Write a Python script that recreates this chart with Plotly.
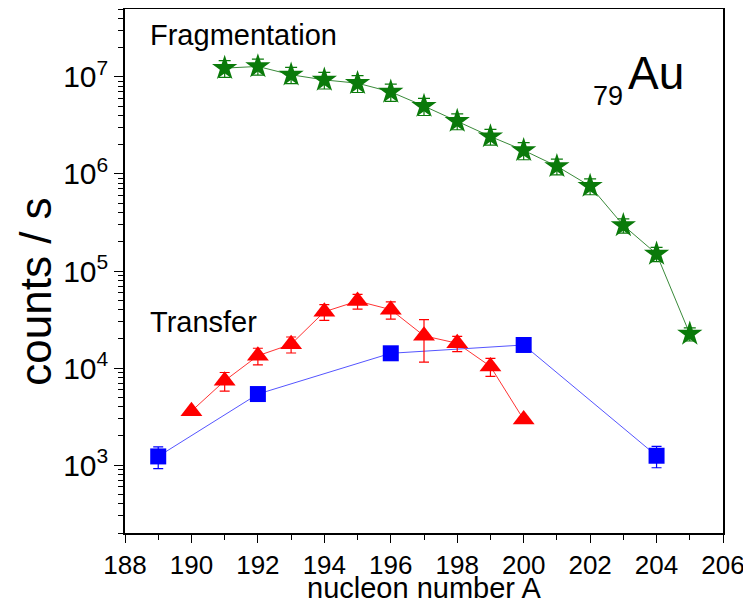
import plotly.graph_objects as go

# Fragmentation (green stars)
frag_A = [191, 192, 193, 194, 195, 196, 197, 198, 199, 200, 201, 202, 203, 204, 205]
frag_counts = [1.23e7, 1.28e7, 1.05e7, 9.3e6, 8.6e6, 7.0e6, 5.0e6, 3.5e6, 2.43e6, 1.75e6, 1.2e6, 7.5e5, 2.95e5, 1.5e5, 2.25e4]
frag_err = [2.4e6, 2.4e6, 2.0e6, 1.8e6, 1.7e6, 1.4e6, 1.0e6, 0.65e6, 0.45e6, 0.35e6, 0.22e6, 1.4e5, 0.5e5, 0.25e5, 0.35e4]

# Transfer (red triangles)
trans_A = [190, 191, 192, 193, 194, 195, 196, 197, 198, 199, 200]
trans_counts = [3.6e3, 7.4e3, 1.34e4, 1.76e4, 3.8e4, 4.9e4, 4.0e4, 2.15e4, 1.8e4, 1.04e4, 2.95e3]
trans_err = [0, 1.6e3, 2.6e3, 3.3e3, 7.0e3, 8.5e3, 8.0e3, 1.0e4, 3.2e3, 2.2e3, 0]

# Blue squares
sq_A = [189, 192, 196, 200, 204]
sq_counts = [1.23e3, 5.4e3, 1.42e4, 1.73e4, 1.25e3]
sq_err = [3.1e2, 0, 0, 0, 3.1e2]

x_ticks = [188, 190, 192, 194, 196, 198, 200, 202, 204, 206]
y_ticks = [1e3, 1e4, 1e5, 1e6, 1e7]
y_ticktext = ["10<sup>3</sup>", "10<sup>4</sup>", "10<sup>5</sup>", "10<sup>6</sup>", "10<sup>7</sup>"]

GREEN = "#0a7a0a"
RED = "#ff0000"
BLUE = "#0000ff"

fig = go.Figure()

fig.add_trace(go.Scatter(
    x=sq_A, y=sq_counts, mode="lines+markers",
    line=dict(color="#5555ff", width=1),
    marker=dict(symbol="square", size=16, color=BLUE),
    error_y=dict(type="data", array=sq_err, color=BLUE, thickness=1.2, width=5),
    showlegend=False))

fig.add_trace(go.Scatter(
    x=trans_A, y=trans_counts, mode="lines+markers",
    line=dict(color="#ff3333", width=1),
    marker=dict(symbol="triangle-up", size=19, color=RED),
    error_y=dict(type="data", array=trans_err, color=RED, thickness=1.2, width=5),
    showlegend=False))

fig.add_trace(go.Scatter(
    x=frag_A, y=frag_counts, mode="lines+markers",
    line=dict(color="#3a8a3a", width=1),
    marker=dict(symbol="star", size=19, color=GREEN),
    error_y=dict(type="data", array=frag_err, color=GREEN, thickness=1.2, width=6),
    showlegend=False))

font_family = "Liberation Sans, Arial, sans-serif"

def note(x, y, text, size, xanchor="left", angle=0, yanchor="middle"):
    fig.add_annotation(x=x, y=y, xref="paper", yref="paper", text=text,
                       showarrow=False, xanchor=xanchor, yanchor=yanchor,
                       textangle=angle,
                       font=dict(size=size, color="black", family=font_family))

note(0.0385, 0.950, "Fragmentation", 29)
note(0.0385, 0.402, "Transfer", 29)
note(0.836, 0.834, "79", 27, xanchor="right")
note(0.837, 0.878, "Au", 46)
note(-0.150, 0.461, "counts / s", 44, xanchor="center", angle=-90)
note(0.5, -0.1395, "nucleon number A", 29, xanchor="center", yanchor="bottom")

# the page body adds an 8 px offset; figure sized to compensate
fig.update_layout(
    template="none",
    width=743, height=599,
    margin=dict(l=117, r=28, t=1, b=74),
    paper_bgcolor="white", plot_bgcolor="white",
    font=dict(family=font_family, color="black"),
    xaxis=dict(
        automargin=False,
        range=[188, 206], tickvals=x_ticks, ticktext=[str(v) for v in x_ticks],
        ticks="outside", ticklen=8, tickwidth=1.2, tickcolor="black",
        minor=dict(ticks="outside", ticklen=5, dtick=1, tickcolor="black", tickwidth=1.2, showgrid=False),
        showline=True, linecolor="black", linewidth=1.5, mirror=True,
        showgrid=False, zeroline=False,
        tickfont=dict(size=26, color="black"),
    ),
    yaxis=dict(
        automargin=False,
        type="log", range=[2.30103, 7.69897],
        tickvals=y_ticks, ticktext=y_ticktext,
        ticks="outside", ticklen=9, tickwidth=1.2, tickcolor="black",
        minor=dict(ticks="outside", ticklen=5, dtick="D1", tickcolor="black", tickwidth=1.2, showgrid=False),
        showline=True, linecolor="black", linewidth=1.5, mirror=True,
        showgrid=False, zeroline=False,
        tickfont=dict(size=30, color="black"),
    ),
)

fig.write_html("out.html")
